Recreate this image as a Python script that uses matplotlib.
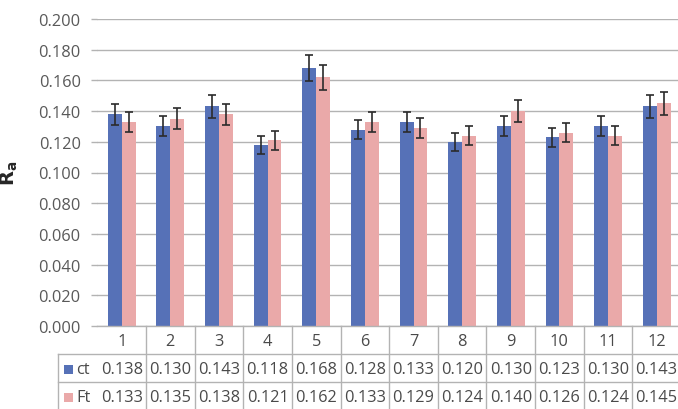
import matplotlib
matplotlib.use("Agg")
import matplotlib.pyplot as plt
from matplotlib.patches import Rectangle
from matplotlib.transforms import blended_transform_factory
import numpy as np

plt.rcParams['font.family'] = ['Open Sans', 'DejaVu Sans']

categories = ['1', '2', '3', '4', '5', '6', '7', '8', '9', '10', '11', '12']
series_names = ['ct', 'Ft']
ct = [0.138, 0.130, 0.143, 0.118, 0.168, 0.128, 0.133, 0.120, 0.130, 0.123, 0.130, 0.143]
ft = [0.133, 0.135, 0.138, 0.121, 0.162, 0.133, 0.129, 0.124, 0.140, 0.126, 0.124, 0.145]
ct_err = [0.0069, 0.0065, 0.0072, 0.0059, 0.0084, 0.0064, 0.0067, 0.0060, 0.0065, 0.0062, 0.0065, 0.0072]
ft_err = [0.0067, 0.0068, 0.0069, 0.0061, 0.0081, 0.0067, 0.0065, 0.0062, 0.0070, 0.0063, 0.0062, 0.0073]
yticks = [0.000, 0.020, 0.040, 0.060, 0.080, 0.100, 0.120, 0.140, 0.160, 0.180, 0.200]

c_ct = '#5671b7'
c_ft = '#eaa9a9'
grid_c = '#b3b3b3'
txt_c = '#4a4a4a'
fs = 11.8

W, H = 678, 410
fig = plt.figure(figsize=(W / 100, H / 100), dpi=100)
ax_l, ax_r, ax_t, ax_b = 97.4, 681.0, 20.0, 327.0
ax = fig.add_axes([ax_l / W, (H - ax_b) / H, (ax_r - ax_l) / W, (ax_b - ax_t) / H])

x = np.arange(len(categories))
bw = 0.285
ax.bar(x - bw / 2, ct, bw, color=c_ct, zorder=2)
ax.bar(x + bw / 2, ft, bw, color=c_ft, zorder=2)
ek = dict(fmt='none', ecolor='#2b2b2b', elinewidth=1.2, capsize=3.0, capthick=1.2, zorder=3)
ax.errorbar(x - bw / 2, ct, yerr=ct_err, **ek)
ax.errorbar(x + bw / 2, ft, yerr=ft_err, **ek)

ax.set_xlim(-0.5, len(categories) - 0.5)
ax.set_ylim(0, 0.200)
ax.set_yticks(yticks)
ax.set_yticklabels([f'{v:.3f}' for v in yticks])
ax.set_xticks([])
ax.yaxis.grid(True, color=grid_c, linewidth=1.0, zorder=0)
ax.set_axisbelow(True)
ax.tick_params(axis='y', length=4, width=1.0, color=grid_c, pad=8, labelsize=fs, labelcolor='#595959')
for s in ['top', 'right', 'left']:
    ax.spines[s].set_visible(False)
ax.spines['bottom'].set_color(grid_c)
ax.spines['bottom'].set_linewidth(1.0)

ax.set_ylabel(r'$\mathbf{R_a}$', fontsize=14, color='#262626')
ax.yaxis.set_label_coords((20 - ax_l) / (ax_r - ax_l), 0.5)

# data table below the axes
aw = ax_r - ax_l
ah = ax_b - ax_t
def ay(py):
    return (ax_b - py) / ah
def axx(px):
    return (px - ax_l) / aw

tr = blended_transform_factory(ax.transData, ax.transAxes)
line_kw = dict(color=grid_c, linewidth=1.0, clip_on=False)
y_bottom = ay(412)
for i in range(len(categories) - 1):
    ax.plot([i + 0.5, i + 0.5], [0, y_bottom], transform=tr, **line_kw)
for py in [355, 383]:
    ax.plot([axx(58), 1.0], [ay(py), ay(py)], transform=ax.transAxes, **line_kw)
ax.plot([axx(58), axx(58)], [ay(355), y_bottom], transform=ax.transAxes, **line_kw)

for i, c in enumerate(categories):
    ax.text(i, ay(342), c, transform=tr, ha='center', va='center', fontsize=fs, color=txt_c)
    ax.text(i, ay(370), f'{ct[i]:.3f}', transform=tr, ha='center', va='center', fontsize=fs, color=txt_c)
    ax.text(i, ay(398), f'{ft[i]:.3f}', transform=tr, ha='center', va='center', fontsize=fs, color=txt_c)

sq = 9
for name, col, pyc in [(series_names[0], c_ct, 370), (series_names[1], c_ft, 398)]:
    ax.add_patch(Rectangle((axx(64), ay(pyc + sq / 2)), sq / aw, sq / ah, transform=ax.transAxes,
                           facecolor=col, edgecolor='none', clip_on=False))
    ax.text(axx(76), ay(pyc), name, transform=ax.transAxes, ha='left', va='center', fontsize=fs, color=txt_c)

fig.savefig('out.png', dpi=100)
